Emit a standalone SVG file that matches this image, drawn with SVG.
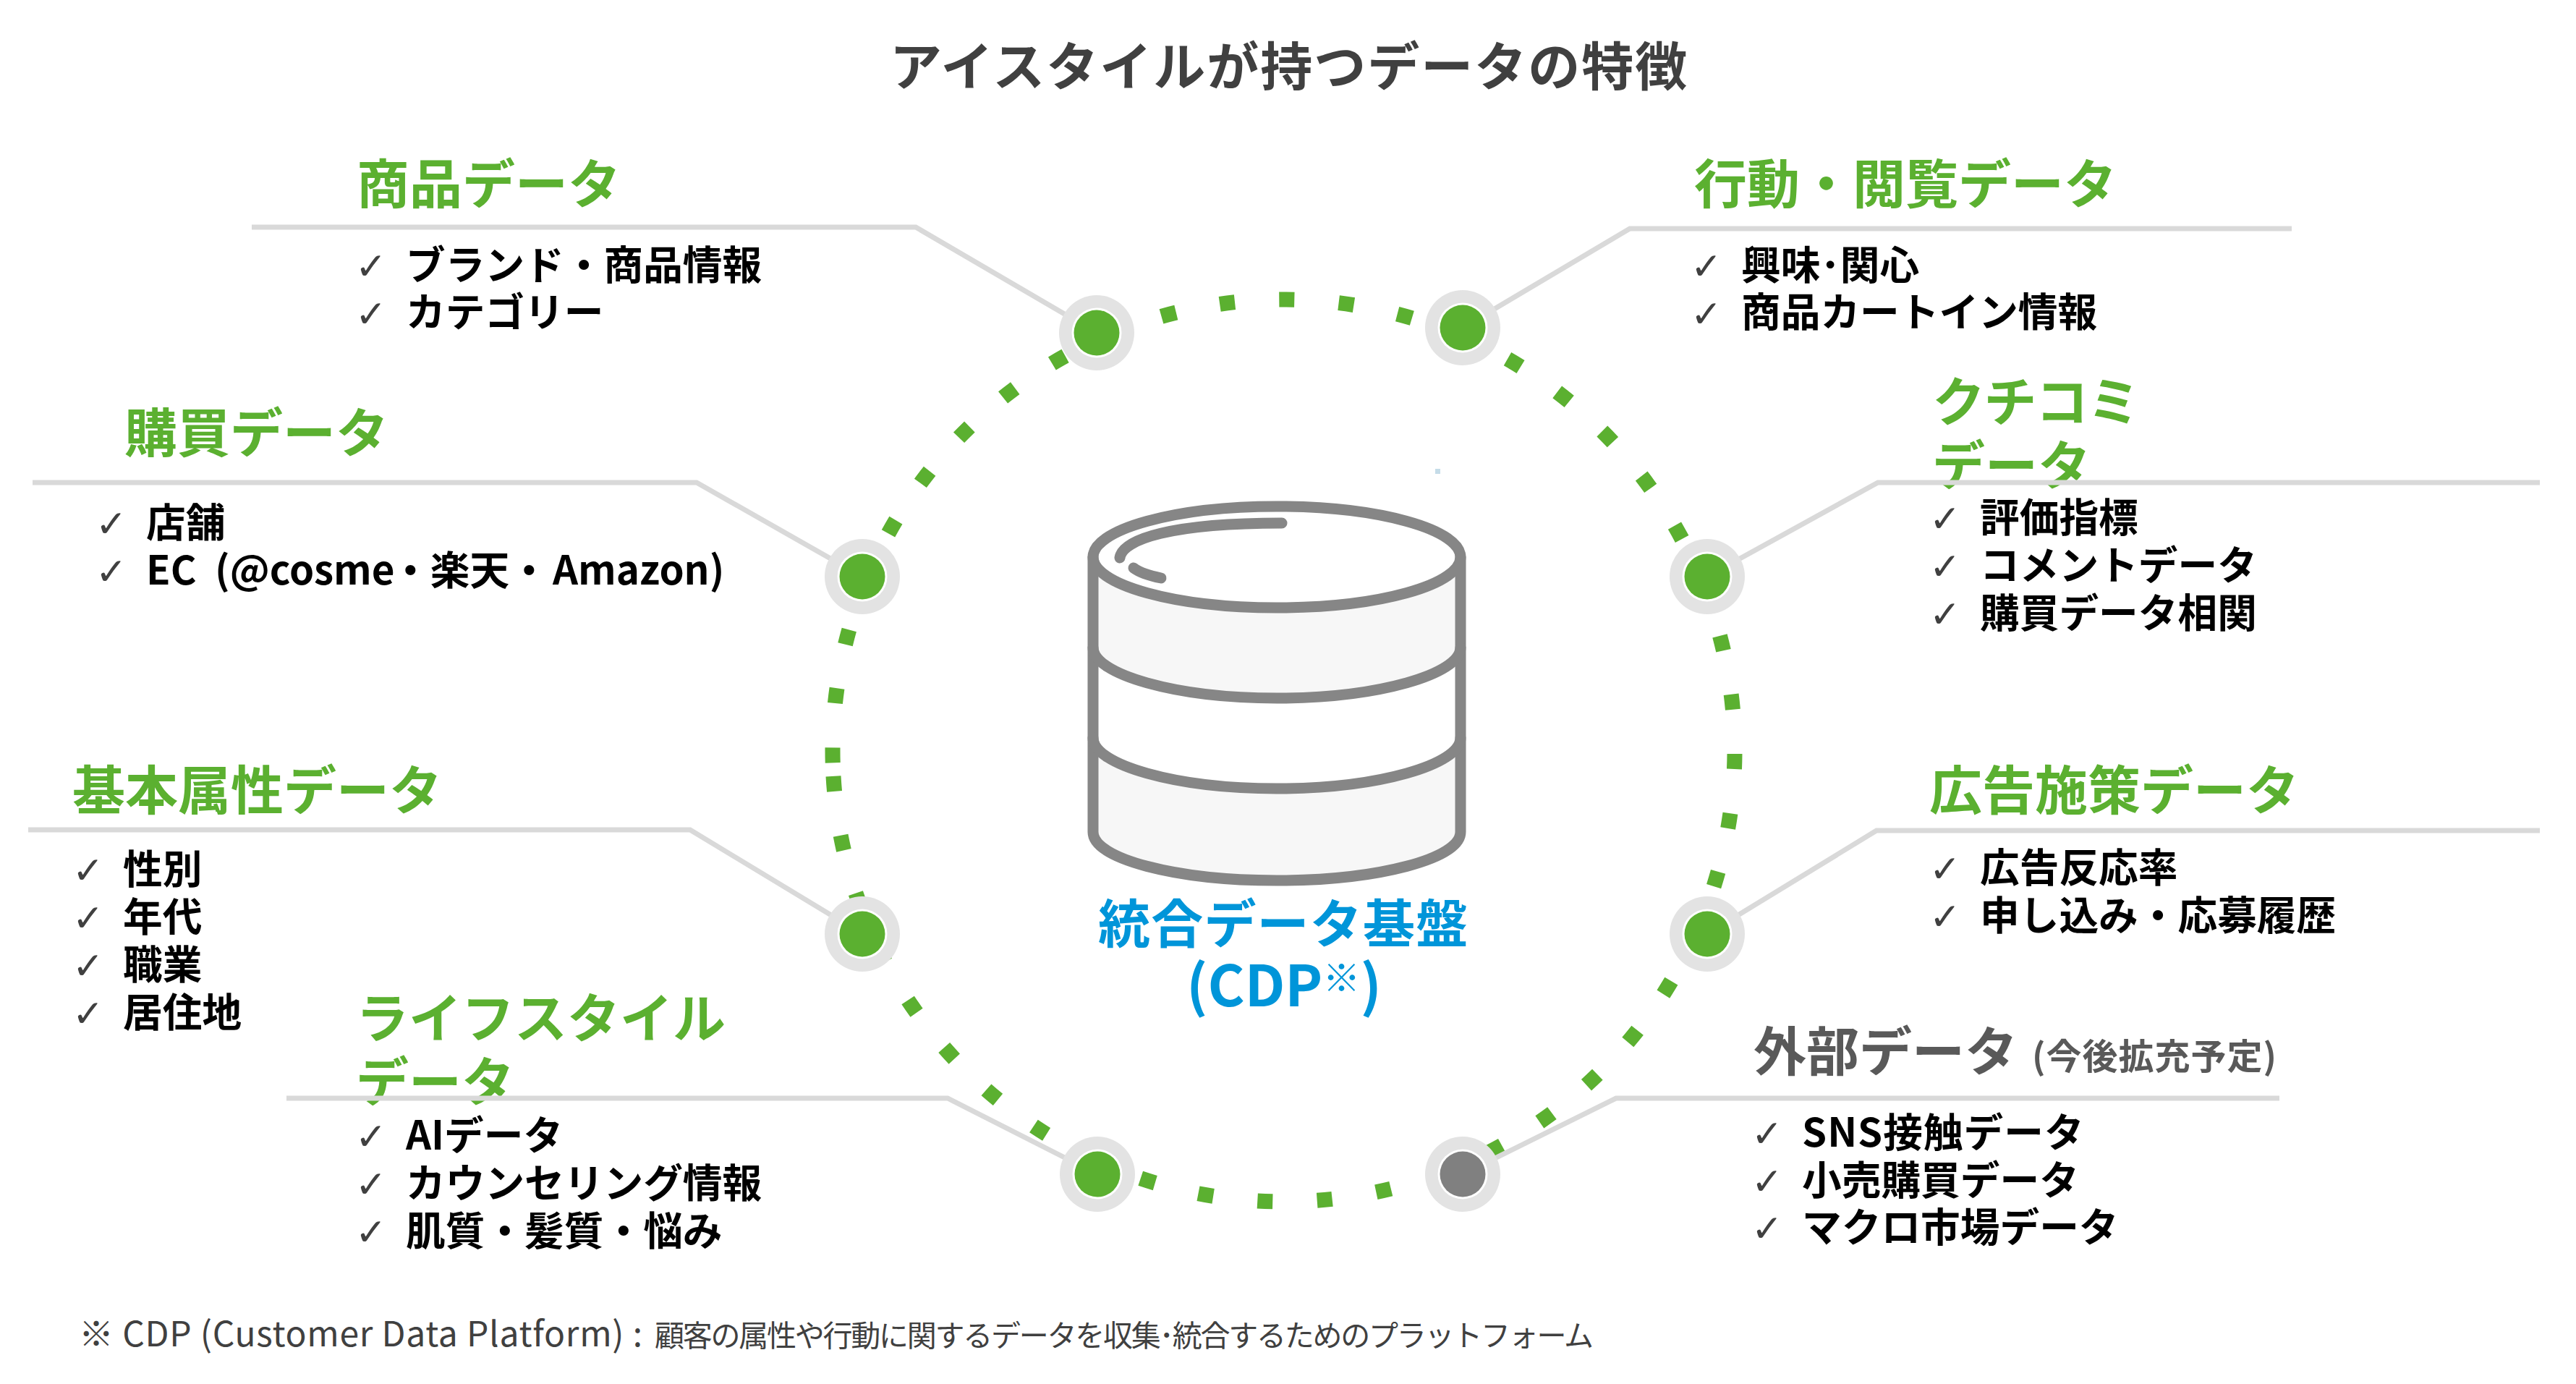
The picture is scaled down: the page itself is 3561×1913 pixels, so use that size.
<svg xmlns="http://www.w3.org/2000/svg" width="3561" height="1913" viewBox="0 0 3561 1913">
<style>
text{font-family:"Noto Sans CJK JP","Noto Sans",sans-serif}
.title{font-size:72px;font-weight:700;fill:#404040;letter-spacing:2px}
.h{font-size:73px;font-weight:700;fill:#5bb030}
.hg{font-size:73px;font-weight:700;fill:#595959}
.hs{font-size:49px;font-weight:700;fill:#595959;letter-spacing:1px}
.i{font-size:54.7px;font-weight:700;fill:#000}
.c{font-family:"DejaVu Sans",sans-serif;font-size:52px;fill:#404040}
.ln{fill:none;stroke:#d9d9d9;stroke-width:7}
.o{fill:#e3e3e3}.r{fill:#fff}.g{fill:#5bb030}.k{fill:#808080}
.cy{stroke:#868686;stroke-width:15;fill:none;stroke-linecap:round}
.cb{font-weight:700;fill:#0095d9}
.fn{font-size:48px;fill:#404040;letter-spacing:0.7px}
</style>
<defs><g id="dot"><circle class="o" r="52"/><circle class="r" r="34.5"/></g></defs>
<g id="title"><text class="title" x="1230" y="118">アイスタイルが持つデータの特徴</text></g>

<g id="label-product"><text class="h" x="493" y="281">商品データ</text>
<text class="c" x="491" y="386">✓</text><text class="i" x="561" y="386">ブランド・商品情報</text>
<text class="c" x="491" y="452">✓</text><text class="i" x="561" y="451">カテゴリー</text></g>

<g id="label-behavior"><text class="h" x="2342" y="281">行動・閲覧データ</text>
<text class="c" x="2337" y="386">✓</text><text class="i" x="2407" y="386">興味･関心</text>
<text class="c" x="2337" y="452">✓</text><text class="i" x="2407" y="451">商品カートイン情報</text></g>

<g id="label-purchase"><text class="h" x="172" y="625">購買データ</text>
<text class="c" x="132" y="742">✓</text><text class="i" x="202" y="742">店舗</text>
<text class="c" x="132" y="808">✓</text><text class="i" x="202" y="808">EC <tspan x="297">(@cosme</tspan><tspan x="540">・楽天・</tspan><tspan x="764">Amazon)</tspan></text></g>

<g id="label-review"><text class="h" x="2671" y="582" letter-spacing="-1.5">クチコミ</text><text class="h" x="2671" y="670">データ</text>
<text class="c" x="2667" y="735">✓</text><text class="i" x="2737" y="735">評価指標</text>
<text class="c" x="2667" y="801">✓</text><text class="i" x="2737" y="801">コメントデータ</text>
<text class="c" x="2667" y="867">✓</text><text class="i" x="2737" y="867">購買データ相関</text></g>

<g id="label-basic"><text class="h" x="100" y="1119">基本属性データ</text>
<text class="c" x="100" y="1221">✓</text><text class="i" x="170" y="1221">性別</text>
<text class="c" x="100" y="1287">✓</text><text class="i" x="170" y="1287">年代</text>
<text class="c" x="100" y="1353">✓</text><text class="i" x="170" y="1353">職業</text>
<text class="c" x="100" y="1419">✓</text><text class="i" x="170" y="1419">居住地</text></g>

<g id="label-ads"><text class="h" x="2667" y="1119">広告施策データ</text>
<text class="c" x="2667" y="1219">✓</text><text class="i" x="2737" y="1219">広告反応率</text>
<text class="c" x="2667" y="1285">✓</text><text class="i" x="2737" y="1285">申し込み・応募履歴</text></g>

<g id="label-lifestyle"><text class="h" x="492" y="1434">ライフスタイル</text><text class="h" x="492" y="1522">データ</text>
<text class="c" x="491" y="1589">✓</text><text class="i" x="561" y="1589">AIデータ</text>
<text class="c" x="491" y="1655">✓</text><text class="i" x="561" y="1655">カウンセリング情報</text>
<text class="c" x="491" y="1721">✓</text><text class="i" x="561" y="1721">肌質・髪質・悩み</text></g>

<g id="label-external"><text class="hg" x="2424" y="1480">外部データ</text><text class="hs" x="2809" y="1478">(今後拡充予定)</text>
<text class="c" x="2421" y="1585">✓</text><text class="i" x="2491" y="1585" letter-spacing="1">SNS接触データ</text>
<text class="c" x="2421" y="1651">✓</text><text class="i" x="2491" y="1651">小売購買データ</text>
<text class="c" x="2421" y="1716">✓</text><text class="i" x="2491" y="1716">マクロ市場データ</text></g>

<g id="connectors">
<circle cx="1774.5" cy="1037.5" r="623.5" fill="none" stroke="#5bb030" stroke-width="21" stroke-dasharray="21 61.5" transform="rotate(178.45 1774.5 1037.5)"/>
<path class="ln" d="M348 314H1266L1516 460"/>
<path class="ln" d="M3168 316H2253L2022 453"/>
<path class="ln" d="M45 667H963L1192 797"/>
<path class="ln" d="M3511 667H2596L2360 797"/>
<path class="ln" d="M39 1147H954L1192 1291"/>
<path class="ln" d="M3511 1148H2594L2360 1291"/>
<path class="ln" d="M396 1518H1310L1517 1623"/>
<path class="ln" d="M3151 1518H2234L2022 1623"/>
</g>

<g id="node-product" transform="translate(1516,460)"><use href="#dot"/><circle class="g" r="31.5"/></g>
<g id="node-behavior" transform="translate(2022,453)"><use href="#dot"/><circle class="g" r="31.5"/></g>
<g id="node-purchase" transform="translate(1192,797)"><use href="#dot"/><circle class="g" r="31.5"/></g>
<g id="node-review" transform="translate(2360,797)"><use href="#dot"/><circle class="g" r="31.5"/></g>
<g id="node-basic" transform="translate(1192,1291)"><use href="#dot"/><circle class="g" r="31.5"/></g>
<g id="node-ads" transform="translate(2360,1291)"><use href="#dot"/><circle class="g" r="31.5"/></g>
<g id="node-lifestyle" transform="translate(1517,1623)"><use href="#dot"/><circle class="g" r="31.5"/></g>
<g id="node-external" transform="translate(2022,1623)"><use href="#dot"/><circle class="k" r="31.5"/></g>

<g id="cdp">
<rect x="1984" y="648" width="7" height="7" fill="#c5dce8"/>
<path d="M1511 770V1150C1511 1187 1625 1217 1765 1217S2019 1187 2019 1150V770Z" fill="#fff"/>
<path d="M1511 770C1511 807 1625 840 1765 840S2019 807 2019 770V895C2019 932 1905 965 1765 965S1511 932 1511 895Z" fill="#f7f7f7"/>
<path d="M1511 1020C1511 1057 1625 1090 1765 1090S2019 1057 2019 1020V1150C2019 1187 1905 1217 1765 1217S1511 1187 1511 1150Z" fill="#f7f7f7"/>
<ellipse class="cy" cx="1765" cy="770" rx="254" ry="70"/>
<path class="cy" d="M1511 770V1150C1511 1187 1625 1217 1765 1217S2019 1187 2019 1150V770"/>
<path class="cy" d="M1511 895C1511 932 1625 965 1765 965S2019 932 2019 895"/>
<path class="cy" d="M1511 1020C1511 1057 1625 1090 1765 1090S2019 1057 2019 1020"/>
<path class="cy" d="M1548 771C1552 745 1620 723 1772 723"/>
<path class="cy" d="M1567 785C1575 791 1590 796 1605 799"/>
<text class="cb" x="1518" y="1303" font-size="72" letter-spacing="1.2">統合データ基盤</text>
<text class="cb" x="1640" y="1391" font-size="78">(CDP<tspan font-size="52" font-weight="400" dy="-20">※</tspan><tspan dy="20">)</tspan></text>
</g>

<g id="footnote"><text class="fn" x="109" y="1861">※ CDP (Customer Data Platform) : <tspan x="905" font-size="41" letter-spacing="-2.25">顧客の属性や行動に関するデータを収集･統合するためのプラットフォーム</tspan></text></g>
</svg>
